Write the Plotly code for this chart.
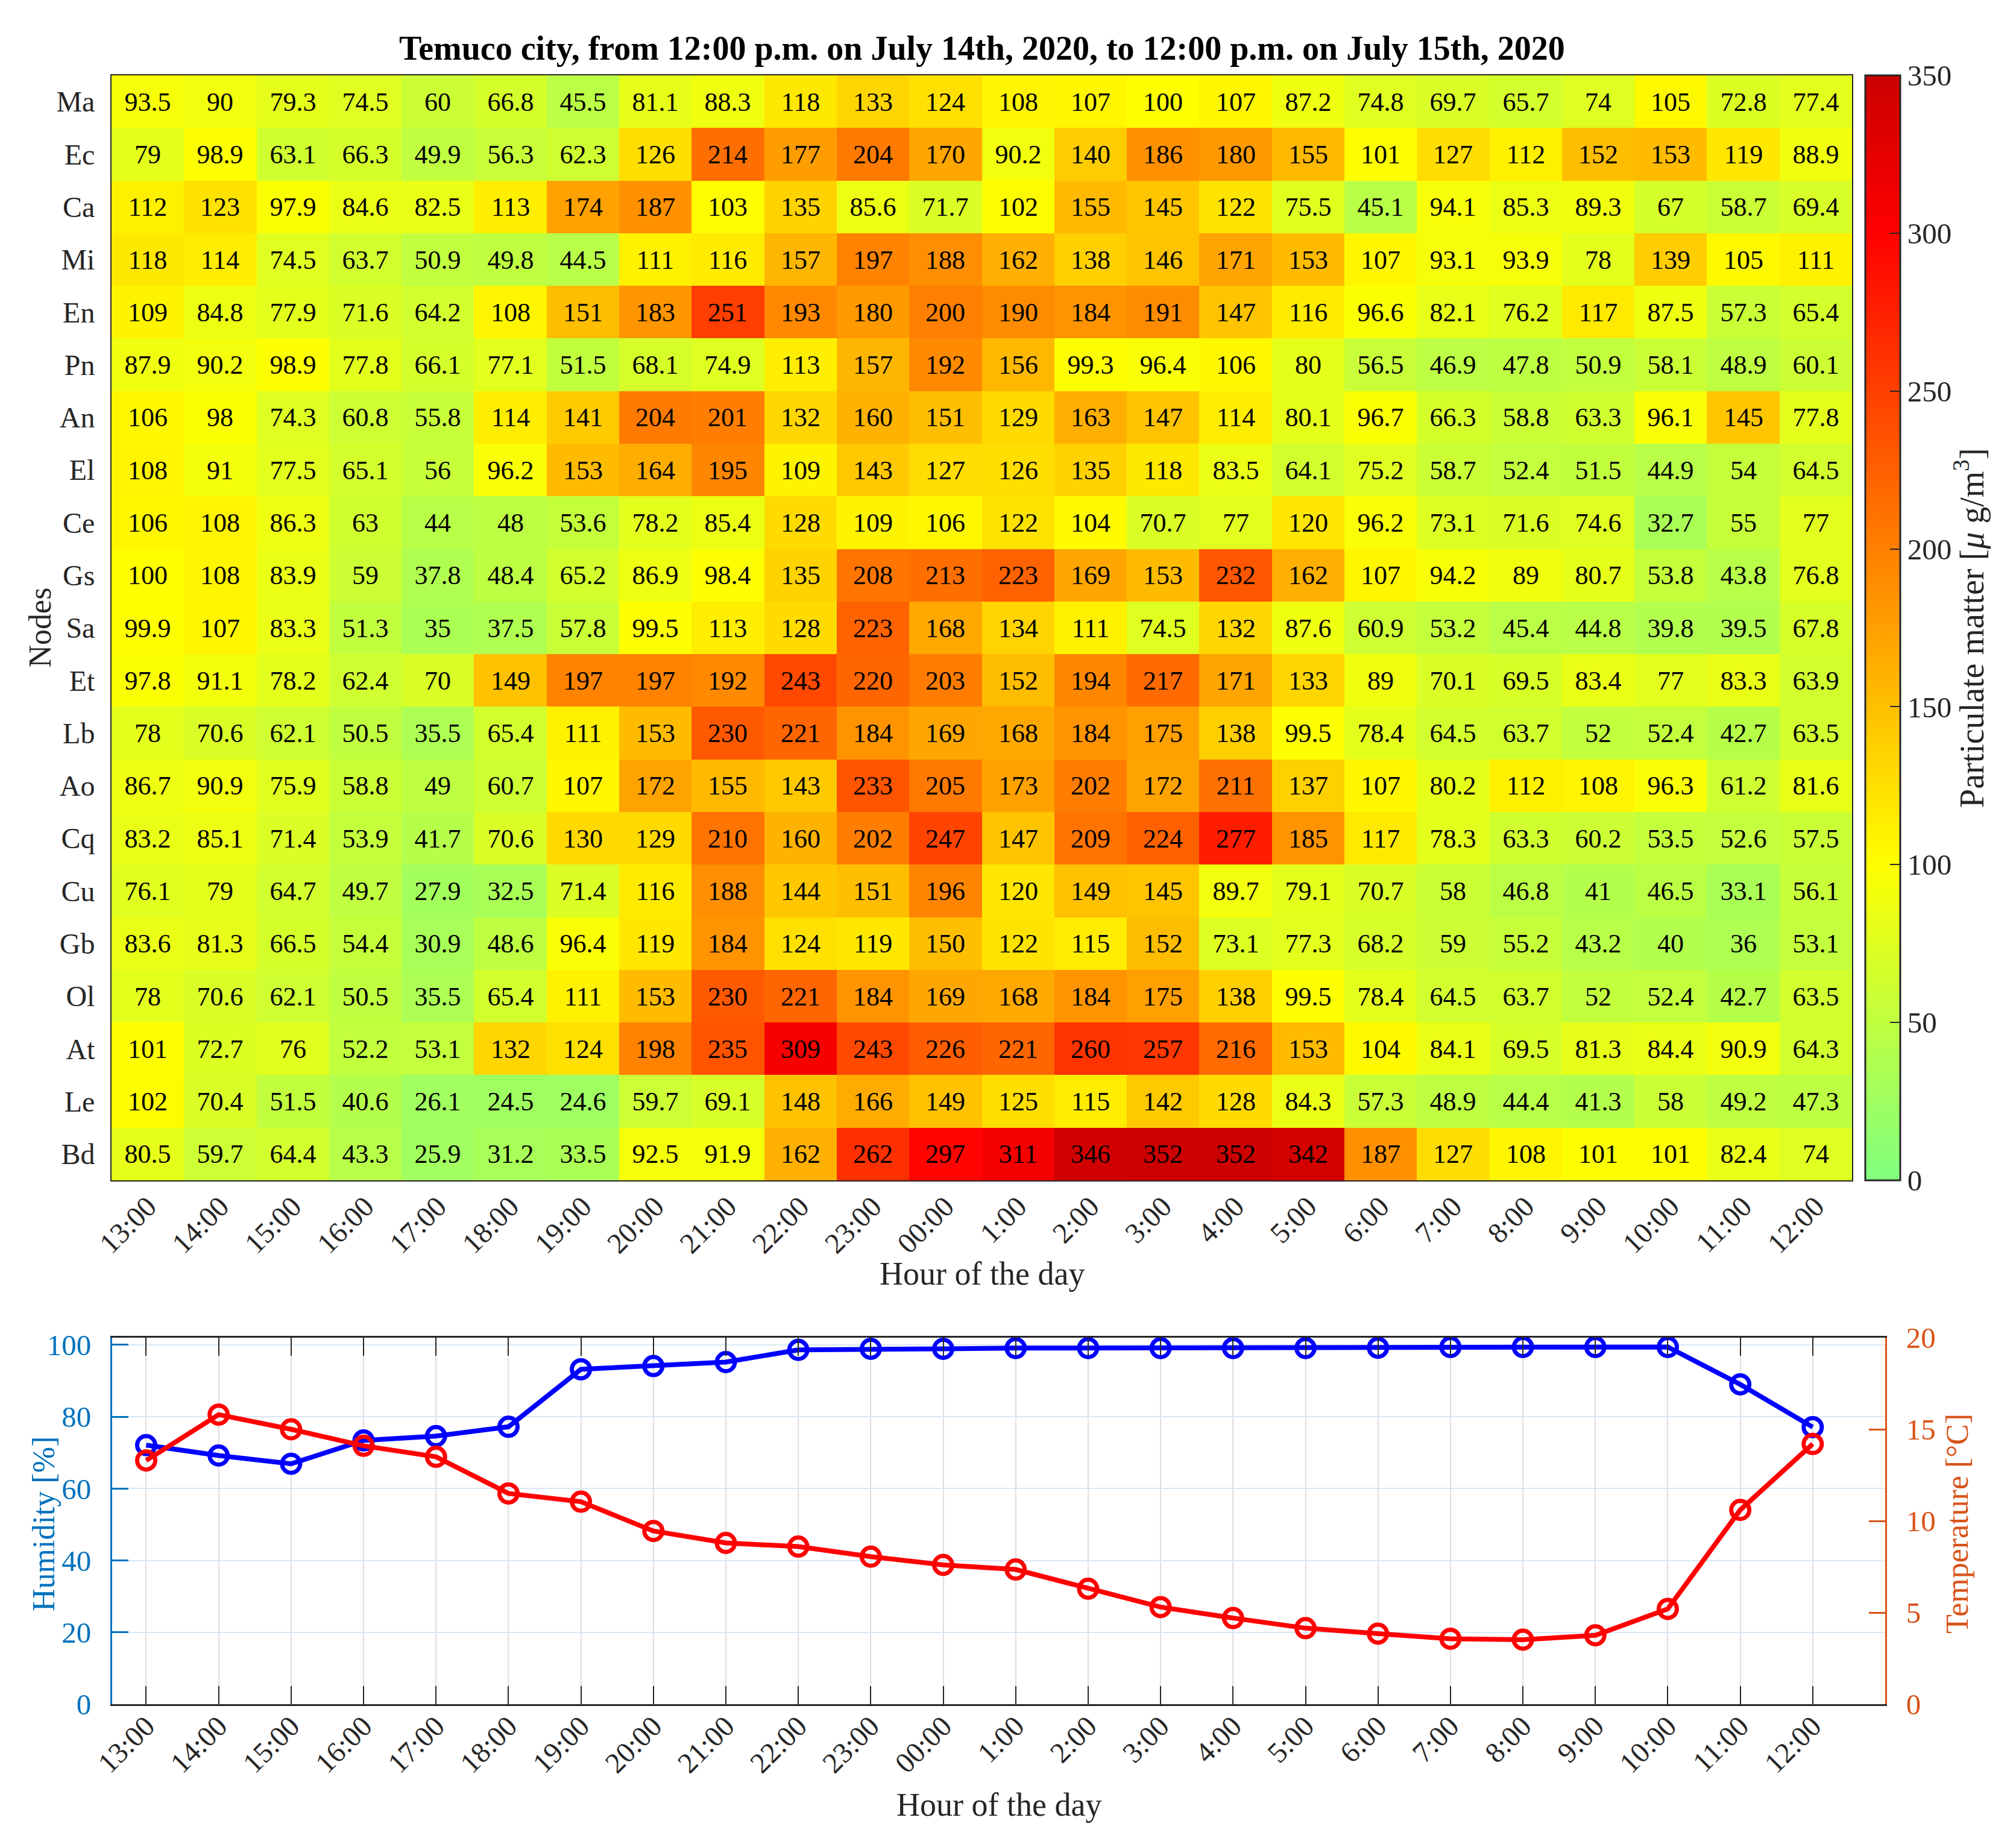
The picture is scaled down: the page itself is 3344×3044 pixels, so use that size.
import plotly.graph_objects as go

W, H = 3344, 3044

hours = ["13:00", "14:00", "15:00", "16:00", "17:00", "18:00", "19:00", "20:00",
         "21:00", "22:00", "23:00", "00:00", "1:00", "2:00", "3:00", "4:00",
         "5:00", "6:00", "7:00", "8:00", "9:00", "10:00", "11:00", "12:00"]

nodes = ["Ma", "Ec", "Ca", "Mi", "En", "Pn", "An", "El", "Ce", "Gs", "Sa",
         "Et", "Lb", "Ao", "Cq", "Cu", "Gb", "Ol", "At", "Le", "Bd"]

pm_Ma = [93.5, 90, 79.3, 74.5, 60, 66.8, 45.5, 81.1, 88.3, 118, 133, 124, 108, 107, 100, 107, 87.2, 74.8, 69.7, 65.7, 74, 105, 72.8, 77.4]
pm_Ec = [79, 98.9, 63.1, 66.3, 49.9, 56.3, 62.3, 126, 214, 177, 204, 170, 90.2, 140, 186, 180, 155, 101, 127, 112, 152, 153, 119, 88.9]
pm_Ca = [112, 123, 97.9, 84.6, 82.5, 113, 174, 187, 103, 135, 85.6, 71.7, 102, 155, 145, 122, 75.5, 45.1, 94.1, 85.3, 89.3, 67, 58.7, 69.4]
pm_Mi = [118, 114, 74.5, 63.7, 50.9, 49.8, 44.5, 111, 116, 157, 197, 188, 162, 138, 146, 171, 153, 107, 93.1, 93.9, 78, 139, 105, 111]
pm_En = [109, 84.8, 77.9, 71.6, 64.2, 108, 151, 183, 251, 193, 180, 200, 190, 184, 191, 147, 116, 96.6, 82.1, 76.2, 117, 87.5, 57.3, 65.4]
pm_Pn = [87.9, 90.2, 98.9, 77.8, 66.1, 77.1, 51.5, 68.1, 74.9, 113, 157, 192, 156, 99.3, 96.4, 106, 80, 56.5, 46.9, 47.8, 50.9, 58.1, 48.9, 60.1]
pm_An = [106, 98, 74.3, 60.8, 55.8, 114, 141, 204, 201, 132, 160, 151, 129, 163, 147, 114, 80.1, 96.7, 66.3, 58.8, 63.3, 96.1, 145, 77.8]
pm_El = [108, 91, 77.5, 65.1, 56, 96.2, 153, 164, 195, 109, 143, 127, 126, 135, 118, 83.5, 64.1, 75.2, 58.7, 52.4, 51.5, 44.9, 54, 64.5]
pm_Ce = [106, 108, 86.3, 63, 44, 48, 53.6, 78.2, 85.4, 128, 109, 106, 122, 104, 70.7, 77, 120, 96.2, 73.1, 71.6, 74.6, 32.7, 55, 77]
pm_Gs = [100, 108, 83.9, 59, 37.8, 48.4, 65.2, 86.9, 98.4, 135, 208, 213, 223, 169, 153, 232, 162, 107, 94.2, 89, 80.7, 53.8, 43.8, 76.8]
pm_Sa = [99.9, 107, 83.3, 51.3, 35, 37.5, 57.8, 99.5, 113, 128, 223, 168, 134, 111, 74.5, 132, 87.6, 60.9, 53.2, 45.4, 44.8, 39.8, 39.5, 67.8]
pm_Et = [97.8, 91.1, 78.2, 62.4, 70, 149, 197, 197, 192, 243, 220, 203, 152, 194, 217, 171, 133, 89, 70.1, 69.5, 83.4, 77, 83.3, 63.9]
pm_Lb = [78, 70.6, 62.1, 50.5, 35.5, 65.4, 111, 153, 230, 221, 184, 169, 168, 184, 175, 138, 99.5, 78.4, 64.5, 63.7, 52, 52.4, 42.7, 63.5]
pm_Ao = [86.7, 90.9, 75.9, 58.8, 49, 60.7, 107, 172, 155, 143, 233, 205, 173, 202, 172, 211, 137, 107, 80.2, 112, 108, 96.3, 61.2, 81.6]
pm_Cq = [83.2, 85.1, 71.4, 53.9, 41.7, 70.6, 130, 129, 210, 160, 202, 247, 147, 209, 224, 277, 185, 117, 78.3, 63.3, 60.2, 53.5, 52.6, 57.5]
pm_Cu = [76.1, 79, 64.7, 49.7, 27.9, 32.5, 71.4, 116, 188, 144, 151, 196, 120, 149, 145, 89.7, 79.1, 70.7, 58, 46.8, 41, 46.5, 33.1, 56.1]
pm_Gb = [83.6, 81.3, 66.5, 54.4, 30.9, 48.6, 96.4, 119, 184, 124, 119, 150, 122, 115, 152, 73.1, 77.3, 68.2, 59, 55.2, 43.2, 40, 36, 53.1]
pm_Ol = [78, 70.6, 62.1, 50.5, 35.5, 65.4, 111, 153, 230, 221, 184, 169, 168, 184, 175, 138, 99.5, 78.4, 64.5, 63.7, 52, 52.4, 42.7, 63.5]
pm_At = [101, 72.7, 76, 52.2, 53.1, 132, 124, 198, 235, 309, 243, 226, 221, 260, 257, 216, 153, 104, 84.1, 69.5, 81.3, 84.4, 90.9, 64.3]
pm_Le = [102, 70.4, 51.5, 40.6, 26.1, 24.5, 24.6, 59.7, 69.1, 148, 166, 149, 125, 115, 142, 128, 84.3, 57.3, 48.9, 44.4, 41.3, 58, 49.2, 47.3]
pm_Bd = [80.5, 59.7, 64.4, 43.3, 25.9, 31.2, 33.5, 92.5, 91.9, 162, 262, 297, 311, 346, 352, 352, 342, 187, 127, 108, 101, 101, 82.4, 74]

humidity = [72.1, 69.2, 66.9, 73.4, 74.6, 77.2, 93.2, 94.1, 95.2, 98.6, 98.9, 98.9, 99.1,
            99.1, 99.1, 99.1, 99.1, 99.2, 99.4, 99.4, 99.4, 99.4, 89.0, 77.1]
temperature = [13.3, 15.8, 15.0, 14.1, 13.5, 11.5, 11.05, 9.45, 8.8, 8.6, 8.05, 7.6, 7.35,
               6.3, 5.3, 4.7, 4.15, 3.85, 3.57, 3.52, 3.76, 5.2, 10.6, 14.2]

pm_rows = [pm_Ma, pm_Ec, pm_Ca, pm_Mi, pm_En, pm_Pn, pm_An, pm_El, pm_Ce, pm_Gs, pm_Sa,
           pm_Et, pm_Lb, pm_Ao, pm_Cq, pm_Cu, pm_Gb, pm_Ol, pm_At, pm_Le, pm_Bd]
pm_text = [["%g" % v for v in row] for row in pm_rows]
xidx = list(range(len(hours)))

FONT = "Liberation Serif"
DARK = "#262626"
BLUE_AX = "#0072BD"
ORANGE_AX = "#D95319"


def fx(px):
    return px / W


def fy(py):
    return 1 - py / H


colorscale = [
    [0.0, "rgb(128,255,128)"],
    [100 / 350, "rgb(255,255,0)"],
    [300 / 350, "rgb(255,0,0)"],
    [1.0, "rgb(204,0,0)"],
]

HM_L, HM_R, HM_T, HM_B = 177, 3064, 117, 1950
BT_L, BT_R, BT_T, BT_B = 178, 3119, 2211, 2819

fig = go.Figure()

fig.add_trace(go.Heatmap(
    z=pm_rows, x=xidx, y=nodes, text=pm_text, texttemplate="%{text}",
    textfont=dict(family=FONT, size=44, color="black"),
    colorscale=colorscale, zmin=0, zmax=350,
    xaxis="x", yaxis="y",
    colorbar=dict(
        x=fx(3086), xanchor="left", y=fy((HM_T + HM_B) / 2), yanchor="middle",
        len=(HM_B - HM_T) / H, lenmode="fraction",
        thickness=58, thicknessmode="pixels",
        outlinewidth=3, outlinecolor=DARK,
        ticks="inside", ticklen=18, tickwidth=2, tickcolor=DARK,
        tickvals=[0, 50, 100, 150, 200, 250, 300, 350],
        tickfont=dict(family=FONT, size=49, color=DARK),
        xpad=0, ypad=0,
    ),
))

fig.add_trace(go.Scatter(
    x=xidx, y=humidity, mode="lines+markers", xaxis="x2", yaxis="y3",
    line=dict(color="#0000FF", width=8),
    marker=dict(symbol="circle-open", size=30, color="#0000FF", line=dict(width=7, color="#0000FF")),
    showlegend=False,
))
fig.add_trace(go.Scatter(
    x=xidx, y=temperature, mode="lines+markers", xaxis="x2", yaxis="y4",
    line=dict(color="#FF0000", width=8),
    marker=dict(symbol="circle-open", size=30, color="#FF0000", line=dict(width=7, color="#FF0000")),
    showlegend=False,
))

annotations = [
    dict(text="<b>Temuco city, from 12:00 p.m. on July 14th, 2020, to 12:00 p.m. on July 15th, 2020</b>",
         x=fx((HM_L + HM_R) / 2), y=fy(72), xref="paper", yref="paper",
         xanchor="center", yanchor="middle", showarrow=False,
         font=dict(family=FONT, size=56, color="black")),
    dict(text="Nodes", x=fx(58), y=fy((HM_T + HM_B) / 2), xref="paper", yref="paper",
         textangle=-90, xanchor="center", yanchor="middle", showarrow=False,
         font=dict(family=FONT, size=52, color=DARK)),
    dict(text="Hour of the day", x=fx((HM_L + HM_R) / 2), y=fy(2105), xref="paper", yref="paper",
         xanchor="center", yanchor="middle", showarrow=False,
         font=dict(family=FONT, size=54, color=DARK)),
    dict(text="Particulate matter [<i>μ</i> g/m<sup>3</sup>]", x=fx(3258), y=fy(1034),
         xref="paper", yref="paper", textangle=-90, xanchor="center", yanchor="middle",
         showarrow=False, font=dict(family=FONT, size=56, color=DARK)),
    dict(text="Hour of the day", x=fx((BT_L + BT_R) / 2), y=fy(2986), xref="paper", yref="paper",
         xanchor="center", yanchor="middle", showarrow=False,
         font=dict(family=FONT, size=54, color=DARK)),
    dict(text="Humidity [%]", x=fx(64), y=fy(2520), xref="paper", yref="paper",
         textangle=-90, xanchor="center", yanchor="middle", showarrow=False,
         font=dict(family=FONT, size=52, color=BLUE_AX)),
    dict(text="Temperature [°C]", x=fx(3238), y=fy(2520), xref="paper", yref="paper",
         textangle=-90, xanchor="center", yanchor="middle", showarrow=False,
         font=dict(family=FONT, size=52, color=ORANGE_AX)),
]

fig.update_layout(
    width=W, height=H,
    margin=dict(l=0, r=0, t=0, b=0, autoexpand=False),
    paper_bgcolor="white", plot_bgcolor="white",
    showlegend=False,
    annotations=annotations,
    xaxis=dict(
        domain=[fx(HM_L), fx(HM_R)], anchor="y", range=[-0.5, 23.5],
        tickvals=xidx, ticktext=hours, tickangle=-45, ticks="",
        ticklabelstandoff=-6,
        tickfont=dict(family=FONT, size=48, color=DARK),
        showline=True, mirror=True, linecolor=DARK, linewidth=2,
        showgrid=False, zeroline=False, automargin=False,
    ),
    yaxis=dict(
        domain=[fy(HM_B), fy(HM_T)], anchor="x", autorange="reversed",
        type="category", ticks="", ticklabelstandoff=16,
        tickfont=dict(family=FONT, size=48, color=DARK),
        showline=True, mirror=True, linecolor=DARK, linewidth=2,
        showgrid=False, zeroline=False, automargin=False,
    ),
    xaxis2=dict(
        domain=[fx(BT_L), fx(BT_R)], anchor="y3", range=[-0.47, 24.0],
        tickvals=xidx, ticktext=hours, tickangle=-45,
        ticks="inside", ticklen=30, tickwidth=2, tickcolor=DARK,
        ticklabelstandoff=-14,
        tickfont=dict(family=FONT, size=48, color=DARK),
        showline=True, mirror="ticks", linecolor=DARK, linewidth=3,
        showgrid=True, gridcolor="rgb(222,222,224)", gridwidth=2, zeroline=False,
        automargin=False,
    ),
    yaxis3=dict(
        domain=[fy(BT_B), fy(BT_T)], anchor="x2", range=[0, 102],
        tickvals=[0, 20, 40, 60, 80, 100],
        ticks="inside", ticklen=27, tickwidth=3, tickcolor=BLUE_AX,
        ticklabelstandoff=22,
        tickfont=dict(family=FONT, size=49, color=BLUE_AX),
        showline=True, linecolor=BLUE_AX, linewidth=3,
        showgrid=True, gridcolor="rgb(217,232,244)", gridwidth=2, zeroline=False,
        automargin=False,
    ),
    yaxis4=dict(
        overlaying="y3", side="right", anchor="x2", range=[0, 20],
        tickvals=[0, 5, 10, 15, 20],
        ticks="inside", ticklen=27, tickwidth=3, tickcolor=ORANGE_AX,
        ticklabelstandoff=22,
        tickfont=dict(family=FONT, size=49, color=ORANGE_AX),
        showline=True, linecolor=ORANGE_AX, linewidth=3,
        showgrid=False, zeroline=False, automargin=False,
    ),
)

fig.write_html("out.html")
